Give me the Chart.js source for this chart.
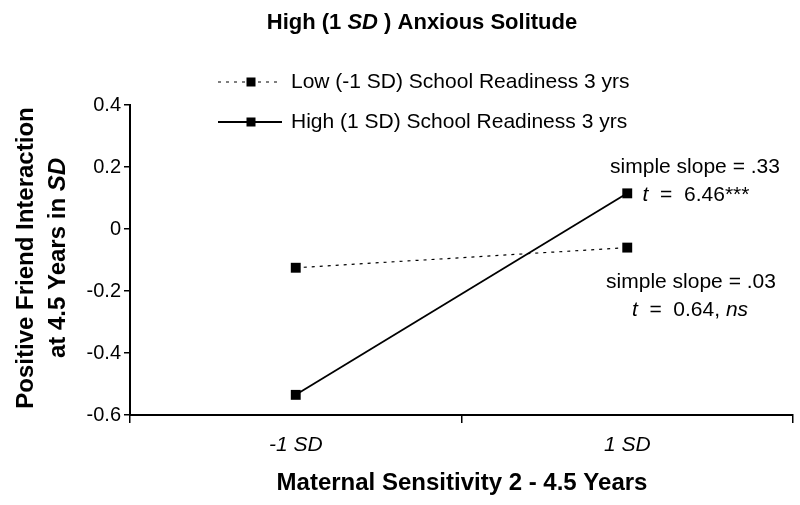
<!DOCTYPE html>
<html>
<head>
<meta charset="utf-8">
<script src="https://cdn.jsdelivr.net/npm/chart.js@4"></script>
<style>
  html, body { margin: 0; padding: 0; background: #fff; }
  #wrap { width: 800px; height: 505px; }
</style>
</head>
<body>
<div id="wrap"><canvas id="myChart" width="800" height="505"></canvas></div>
<script>
// values
const categories = ['-1 SD', '1 SD'];
const lowReadiness = [-0.125, -0.06];
const highReadiness = [-0.535, 0.115];
const seriesNames = ['Low (-1 SD) School Readiness 3 yrs', 'High (1 SD) School Readiness 3 yrs'];
const yMin = -0.6, yMax = 0.4, yStep = 0.2;

const FONT = '"Liberation Sans", Arial, sans-serif';

// draws pieces of text, some italic, centred on x
function drawRuns(ctx, runs, x, y, size, bold) {
  const w = runs.map(r => {
    ctx.font = (r[1] ? 'italic ' : '') + (bold ? 'bold ' : '') + size + 'px ' + FONT;
    return ctx.measureText(r[0]).width;
  });
  let cx = x - w.reduce((a, b) => a + b, 0) / 2;
  runs.forEach((r, i) => {
    ctx.font = (r[1] ? 'italic ' : '') + (bold ? 'bold ' : '') + size + 'px ' + FONT;
    ctx.fillText(r[0], cx, y);
    cx += w[i];
  });
}

const textPlugin = {
  id: 'texts',
  afterDraw(chart) {
    const ctx = chart.ctx;
    ctx.save();
    ctx.fillStyle = '#000';
    ctx.textAlign = 'left';
    ctx.textBaseline = 'middle';

    // title
    drawRuns(ctx, [['High (1 ', false], ['SD', true], [' ) Anxious Solitude', false]], 422, 23, 22, true);

    // x title
    drawRuns(ctx, [['Maternal Sensitivity 2 - 4.5 Years', false]], 462, 483, 24, true);

    // y title, rotated
    ctx.save();
    ctx.translate(26, 258);
    ctx.rotate(-Math.PI / 2);
    drawRuns(ctx, [['Positive Friend Interaction', false]], 0, 0, 24, true);
    ctx.restore();
    ctx.save();
    ctx.translate(58, 258);
    ctx.rotate(-Math.PI / 2);
    drawRuns(ctx, [['at 4.5 Years in ', false], ['SD', true]], 0, 0, 24, true);
    ctx.restore();

    // legend
    const rows = [82, 122];
    chart.data.datasets.forEach((ds, i) => {
      const y = rows[i];
      ctx.beginPath();
      ctx.strokeStyle = '#000';
      ctx.lineWidth = ds.borderWidth;
      ctx.setLineDash(ds.borderDash || []);
      ctx.moveTo(218, y);
      ctx.lineTo(282, y);
      ctx.stroke();
      ctx.setLineDash([]);
      ctx.fillRect(251 - 4.5, y - 4.5, 9, 9);
      ctx.font = '21px ' + FONT;
      ctx.fillText(ds.label, 291, y);
    });

    // slope notes
    drawRuns(ctx, [['simple slope = .33', false]], 695, 167, 21, false);
    drawRuns(ctx, [['t', true], ['  =  6.46***', false]], 696, 195, 21, false);
    drawRuns(ctx, [['simple slope = .03', false]], 691, 282, 21, false);
    drawRuns(ctx, [['t', true], ['  =  0.64, ', false], ['ns', true]], 690, 310, 21, false);
    ctx.restore();
  }
};

new Chart(document.getElementById('myChart').getContext('2d'), {
  type: 'line',
  data: {
    labels: categories,
    datasets: [
      {
        label: seriesNames[0],
        data: lowReadiness,
        borderColor: '#000',
        backgroundColor: '#000',
        borderWidth: 1.2,
        borderDash: [3, 5],
        pointStyle: 'rect',
        pointRadius: 7,
        pointBorderWidth: 0,
        tension: 0
      },
      {
        label: seriesNames[1],
        data: highReadiness,
        borderColor: '#000',
        backgroundColor: '#000',
        borderWidth: 1.8,
        pointStyle: 'rect',
        pointRadius: 7,
        pointBorderWidth: 0,
        tension: 0
      }
    ]
  },
  options: {
    responsive: false,
    animation: false,
    devicePixelRatio: 1,
    layout: { padding: { left: 0, right: 5, top: 105, bottom: 0 } },
    plugins: {
      legend: { display: false },
      title: { display: false },
      tooltip: { enabled: false }
    },
    scales: {
      x: {
        type: 'category',
        offset: true,
        afterFit(scale) { scale.height = 90; },
        grid: {
          offset: true,
          drawOnChartArea: false,
          color: '#000',
          tickLength: 8,
          lineWidth: 1.5
        },
        border: { color: '#000', width: 2 },
        ticks: {
          color: '#000',
          padding: 10,
          font: { family: FONT, size: 21, style: 'italic' }
        }
      },
      y: {
        min: yMin,
        max: yMax,
        afterFit(scale) { scale.width = 130; },
        grid: {
          drawOnChartArea: false,
          color: '#000',
          tickLength: 6,
          lineWidth: 1.5
        },
        border: { color: '#000', width: 2 },
        ticks: {
          stepSize: yStep,
          color: '#000',
          padding: 3,
          font: { family: FONT, size: 20 },
          callback: v => Math.abs(v) < 1e-9 ? '0' : v.toFixed(1)
        }
      }
    }
  },
  plugins: [textPlugin]
});
</script>
</body>
</html>
